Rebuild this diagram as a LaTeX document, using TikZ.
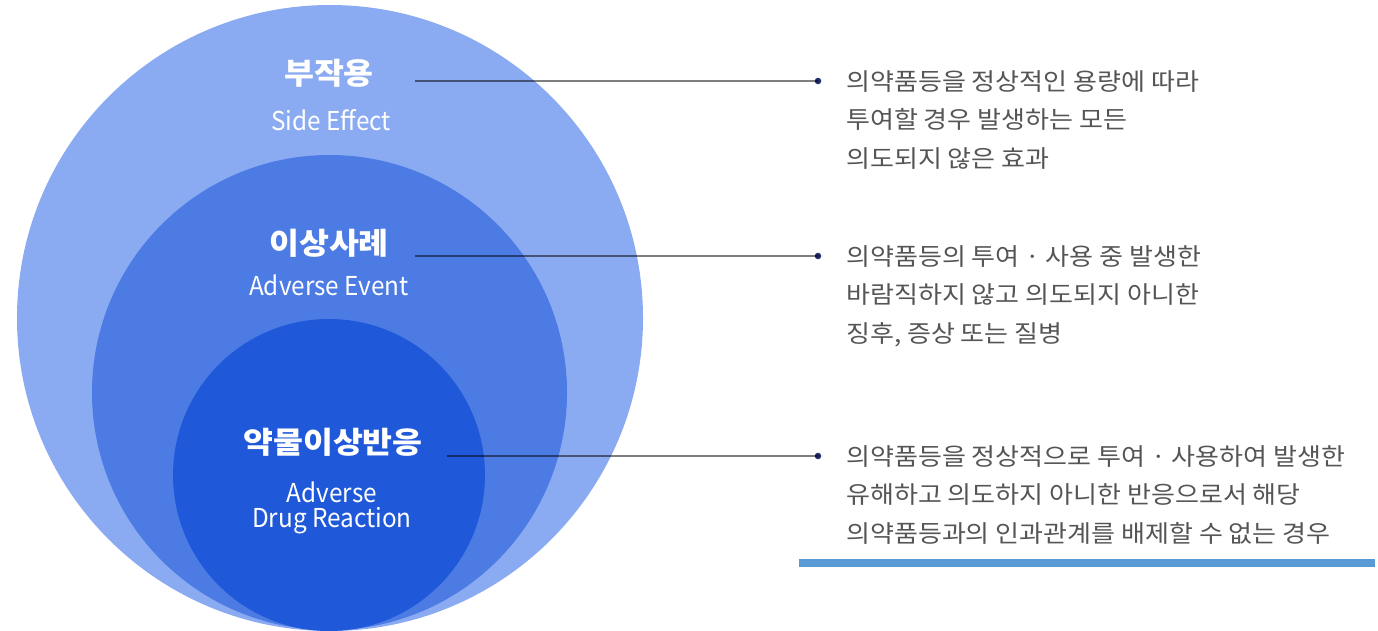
\documentclass[tikz,border=0pt]{standalone}
\usepackage{fontspec}
\setmainfont{Noto Sans CJK KR}
% Hangul set a little wider, Latin a little narrower
\newfontfamily\krwide[FakeStretch=1.085]{Noto Sans CJK KR}
\newfontfamily\latnarrow[FakeStretch=0.935]{Noto Sans CJK KR}
\begin{document}
\begin{tikzpicture}[x=1pt,y=-1pt,
  ring/.style={circle,inner sep=0pt,minimum size=#1},
  title/.style={text=white,font=\krwide\fontsize{30}{30}\selectfont\bfseries,inner sep=0pt},
  sub/.style={text=white,font=\latnarrow\fontsize{26}{26}\selectfont,inner sep=0pt},
  desc/.style={text=descgray,font=\krwide\fontsize{24}{24}\selectfont,inner sep=0pt,anchor=base west},
  leader/.style={draw=black,draw opacity=0.5,line width=1.2pt},
  pin/.style={circle,fill=pinnavy,inner sep=0pt,minimum size=6.5pt}]
\definecolor{outerblue}{HTML}{8AAAF2}
\definecolor{midblue}{HTML}{4C7BE4}
\definecolor{innerblue}{HTML}{1F58D8}
\definecolor{descgray}{HTML}{555555}
\definecolor{pinnavy}{HTML}{1E2C6B}
\definecolor{barblue}{HTML}{5B9BD5}
\useasboundingbox (0,0) rectangle (1378,630);
\clip (0,0) rectangle (1378,630);

% nested circles, tangent at the bottom
\node[ring=626pt,fill=outerblue] (outer) at (330,318) {};
\node[ring=475pt,fill=midblue] (middle) at (329.5,392.5) {};
\node[ring=312pt,fill=innerblue] (inner) at (329,475) {};

% circle labels
\node[title] (t1) at (329,73.5) {부작용};
\node[sub] (s1) at (331,120) {Side Effect};
\node[title] (t2) at (329,243) {이상사례};
\node[sub] (s2) at (329,285) {Adverse Event};
\node[title] (t3) at (333,442) {약물이상반응};
\node[sub] (s3a) at (332,492.5) {Adverse};
\node[sub] (s3b) at (332,521) {Drug Reaction};

% leader lines ending in dots
\coordinate (a1) at (415,81);
\coordinate (a2) at (415,256);
\coordinate (a3) at (447,456);
\node[pin] (p1) at (818,81) {};
\node[pin] (p2) at (818,256) {};
\node[pin] (p3) at (818,456) {};
\draw[leader] (a1) -- (p1.center);
\draw[leader] (a2) -- (p2.center);
\draw[leader] (a3) -- (p3.center);

% definitions
\node[desc] (d11) at (846,90) {의약품등을 정상적인 용량에 따라};
\node[desc] (d12) at (846,128.5) {투여할 경우 발생하는 모든};
\node[desc] (d13) at (846,167) {의도되지 않은 효과};

\node[desc] (d21) at (846,265) {의약품등의 투여 · 사용 중 발생한};
\node[desc] (d22) at (846,303.5) {바람직하지 않고 의도되지 아니한};
\node[desc] (d23) at (846,342) {징후, 증상 또는 질병};

\node[desc] (d31) at (846,465) {의약품등을 정상적으로 투여 · 사용하여 발생한};
\node[desc] (d32) at (846,503.5) {유해하고 의도하지 아니한 반응으로서 해당};
\node[desc] (d33) at (846,542) {의약품등과의 인과관계를 배제할 수 없는 경우};

% accent bar under the last definition
\fill[barblue] (799,559) rectangle (1375,566.5);
\end{tikzpicture}
\end{document}
